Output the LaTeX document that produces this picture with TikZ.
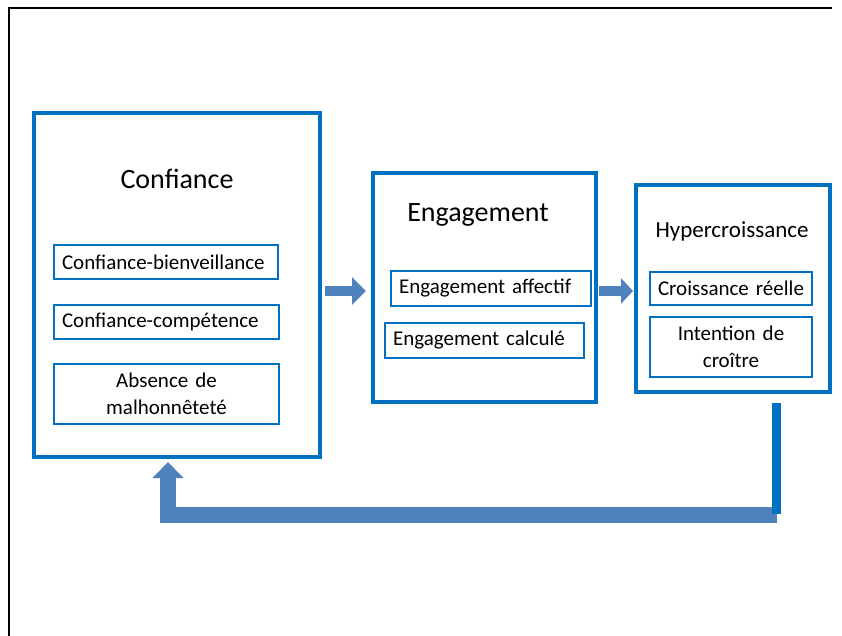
\documentclass[tikz,border=0pt]{standalone}
\usepackage{fontspec}
\setmainfont{Carlito}
\usetikzlibrary{arrows.meta}
\definecolor{boxblue}{HTML}{0070C0}
\definecolor{arrowblue}{HTML}{4F81BD}
\tikzset{bigbox/.style={rectangle, draw=boxblue, line width=4pt, inner sep=0pt},
  smallbox/.style={rectangle, draw=boxblue, line width=1.3pt, inner xsep=8pt, inner ysep=0pt, font=\fontsize{21}{27}\selectfont},
  heading/.style={inner sep=0pt, anchor=base},
  blockarrow/.style={draw=arrowblue, line join=miter}}

\begin{document}
\begin{tikzpicture}[x=1pt, y=-1pt]
\useasboundingbox (0,0) rectangle (842,636);
\draw[line width=2.2pt] (9,636) -- (9,8) -- (832,8);
% the three blocks
\node[bigbox, minimum width=286pt, minimum height=344pt] (B0) at (177,285) {};
\node[bigbox, minimum width=223pt, minimum height=229pt] (B1) at (484.5,287.5) {};
\node[bigbox, minimum width=194pt, minimum height=207pt] (B2) at (733,288.5) {};
\node[heading, font=\fontsize{28}{32}\selectfont] (B0T) at (177,189) {Confiance};
\node[heading, font=\fontsize{28}{32}\selectfont] (B1T) at (478,222) {Engagement};
\node[heading, font=\fontsize{23}{28}\selectfont] (B2T) at (732,237) {Hypercroissance};
% sub-items
\node[smallbox, text width=208pt, align=left, minimum height=34pt] (B0S0) at (166,262) {Confiance-bienveillance};
\node[smallbox, text width=209pt, align=left, minimum height=34pt] (B0S1) at (166.5,322) {Confiance-compétence};
\node[smallbox, text width=209pt, align=center, minimum height=60pt] (B0S2) at (166.5,394) {Absence de\\malhonnêteté};
\node[smallbox, text width=184pt, align=left, minimum height=35pt] (B1S0) at (491,288.5) {Engagement affectif};
\node[smallbox, text width=183pt, align=left, minimum height=35pt] (B1S1) at (484.5,340.5) {Engagement calculé};
\node[smallbox, text width=146pt, align=center, minimum height=33pt] (B2S0) at (731,288.5) {Croissance réelle};
\node[smallbox, text width=146pt, align=center, minimum height=60pt] (B2S1) at (731,347) {Intention de\\croître};
% arrows
\draw[blockarrow, line width=10pt, -{Triangle[width=27pt,length=14pt]}, shorten <=3pt, shorten >=5pt] (B0.east |- 0,291) -- (B1.west |- 0,291);
\draw[blockarrow, line width=10pt, -{Triangle[width=25pt,length=12pt]}, shorten <=1pt, shorten >=1pt] (B1.east |- 0,291) -- (B2.west |- 0,291);
\coordinate (L0) at (777,515);
\coordinate (L1) at (168,462);
\draw[blockarrow, line width=16pt, -{Triangle[width=30pt,length=16pt]}] (L0) -| (L1);
\coordinate (V0) at (776,403);
\coordinate (V1) at (776,514);
\draw[boxblue, line width=9pt] (V0) -- (V1);
\end{tikzpicture}
\end{document}
